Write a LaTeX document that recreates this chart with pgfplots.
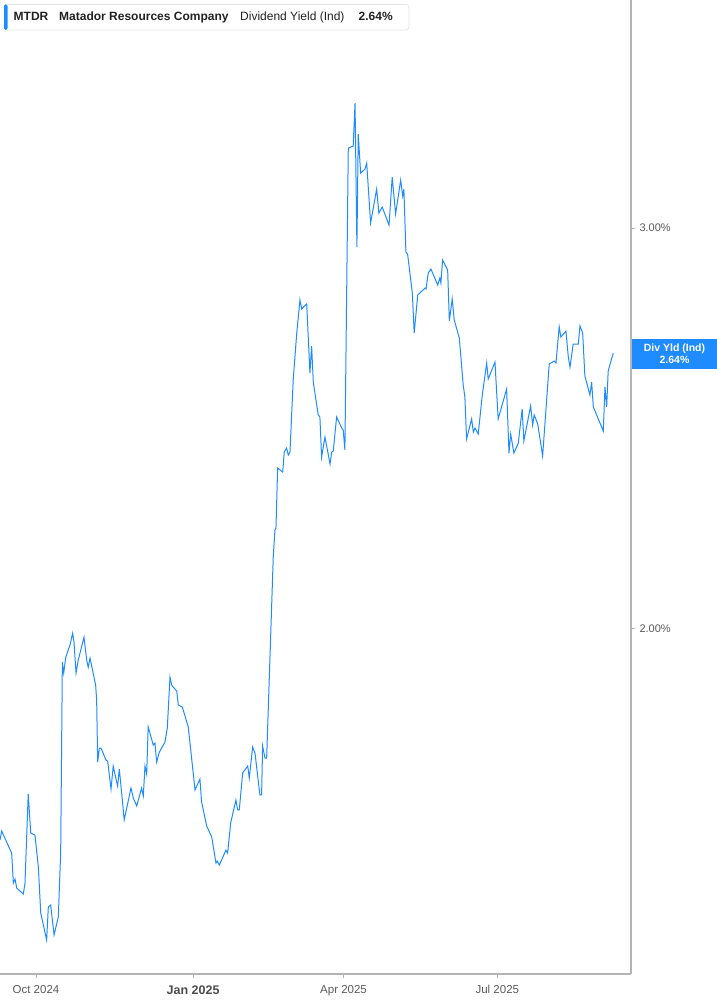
\documentclass[border=0pt]{standalone}
\usepackage{fontspec}
\setmainfont{Liberation Sans}
\usepackage{pgfplots}
\pgfplotsset{compat=1.18}
\definecolor{yldblue}{RGB}{30,140,255}
\definecolor{axisgray}{RGB}{180,180,180}
\definecolor{ticktext}{RGB}{90,90,90}
\definecolor{headtext}{RGB}{34,34,34}
\definecolor{boxline}{RGB}{228,228,228}

\begin{document}
\begin{tikzpicture}
\useasboundingbox (0pt,0pt) rectangle (717pt,1005pt);
\begin{axis}[
    at={(0pt,31pt)}, anchor=south west,
    width=631pt, height=974pt, scale only axis,
    ymode=log,
    xmin=-21.3, xmax=352.1,
    ymin=1.409, ymax=3.78,
    axis x line*=bottom, axis y line*=right,
    axis line style={draw=axisgray, line width=1.2pt},
    clip mode=individual,
    xtick={0,93,182,273},
    xticklabels={Oct 2024,{\raisebox{-3pt}{\fontsize{12.5}{14}\selectfont\bfseries\color{ticktext!85!black}Jan 2025}},Apr 2025,Jul 2025},
    ytick={2,3},
    yticklabels={2.00\%,3.00\%},
    minor tick num=0,
    tick align=outside,
    major tick length=4pt,
    tick style={draw=axisgray, line width=0.8pt},
    xticklabel style={font=\fontsize{11.5}{13}\selectfont, text=ticktext, anchor=north, yshift=-4pt},
    yticklabel style={font=\fontsize{11}{13}\selectfont, text=ticktext, anchor=west, xshift=1pt},
    /pgf/number format/assume math mode=true,
]
\addplot[color=yldblue, line width=1pt, mark=none] coordinates {
(-21.3,1.6138) (-20.3,1.6286) (-14.4,1.5926) (-13.4,1.5450) (-12.4,1.5513)
(-11.4,1.5371) (-7.5,1.5279) (-6.5,1.5450) (-4.6,1.6909) (-3.1,1.6253)
(-0.6,1.6220) (1.4,1.5702) (2.8,1.4989) (6.3,1.4583) (7.3,1.5080)
(8.7,1.5110) (10.7,1.4657) (13.2,1.4928) (14.6,1.5926) (15.6,1.9327)
(16.4,1.9113) (17.6,1.9425) (20.1,1.9663) (21.7,1.9903) (22.5,1.9722)
(23.7,1.9113) (25.0,1.9366) (28.4,1.9822) (30.0,1.9366) (30.9,1.9229)
(32.0,1.9405) (35.3,1.8882) (35.9,1.8598) (36.5,1.7465) (37.5,1.7714)
(38.5,1.7714) (41.4,1.7501) (42.4,1.7483) (44.4,1.6994) (45.7,1.7394)
(48.3,1.7046) (49.3,1.7342) (50.7,1.6926) (52.2,1.6471) (56.2,1.7011)
(57.6,1.6839) (59.6,1.6705) (62.5,1.7011) (63.5,1.6874) (64.5,1.7394)
(65.5,1.7254) (66.4,1.8098) (69.4,1.7768) (70.4,1.7804) (71.4,1.7465)
(73.0,1.7643) (76.3,1.7822) (77.7,1.8077) (79.3,1.9035) (80.3,1.8882)
(83.3,1.8768) (84.2,1.8504) (86.6,1.8467) (90.1,1.8098) (94.1,1.6977)
(97.0,1.7167) (98.0,1.6772) (101.0,1.6371) (104.0,1.6187) (106.5,1.5766)
(107.3,1.5798) (108.5,1.5734) (112.4,1.5975) (113.4,1.5926) (115.2,1.6421)
(118.3,1.6806) (119.3,1.6638) (120.3,1.6638) (122.3,1.7272) (125.3,1.7394)
(126.2,1.7184) (128.2,1.7732) (129.6,1.7625) (132.5,1.6892) (133.5,1.6892)
(134.1,1.7750) (135.5,1.7536) (136.5,1.7536) (140.4,2.1496) (141.4,2.2092)
(142.0,2.2137) (143.0,2.3524) (146.0,2.3429) (146.9,2.3909) (148.3,2.4006)
(149.3,2.3836) (150.3,2.3909) (152.2,2.5718) (154.3,2.6972) (156.2,2.7891)
(157.2,2.7639) (160.2,2.7779) (162.1,2.5901) (163.1,2.6619) (164.1,2.5667)
(167.0,2.4825) (168.0,2.4775) (169.0,2.3788) (171.0,2.4275) (174.0,2.3620)
(175.0,2.3909) (175.9,2.3933) (177.9,2.4775) (180.9,2.4497) (181.8,2.4448)
(182.8,2.3957) (184.8,3.2533) (187.7,3.2599) (188.8,3.4051) (189.9,2.9428)
(190.7,3.2998) (192.1,3.1719) (194.7,3.1848) (195.7,3.2042) (198.0,3.0152)
(201.6,3.1209) (202.9,3.0460) (204.9,3.0645) (208.9,3.0091) (210.8,3.1591)
(212.8,3.0428) (215.8,3.1495) (217.0,3.0989) (217.7,3.1209) (218.9,2.9279)
(219.9,2.9220) (222.7,2.8089) (223.8,2.6972) (225.9,2.8033) (230.2,2.8230)
(230.8,2.8203) (232.1,2.8664) (233.7,2.8780) (237.7,2.8318) (239.0,2.8518)
(239.6,2.8375) (240.6,2.9043) (243.6,2.8751) (244.6,2.7306) (246.3,2.7920)
(247.5,2.7334) (250.5,2.6836) (252.8,2.5589) (253.8,2.5280) (254.8,2.4225)
(257.8,2.4725) (258.8,2.4398) (259.8,2.4497) (261.7,2.4349) (264.1,2.5331)
(266.7,2.6165) (267.6,2.5744) (271.6,2.6191) (273.5,2.4725) (278.5,2.5485)
(279.9,2.3884) (280.9,2.4349) (282.8,2.3884) (285.4,2.4128) (287.7,2.4976)
(288.7,2.4177) (292.7,2.5051) (293.9,2.4576) (294.8,2.4825) (296.9,2.4600)
(299.8,2.3812) (303.7,2.6138) (306.7,2.6218) (307.7,2.6165) (309.6,2.7142)
(310.6,2.6863) (313.6,2.7027) (315.0,2.6324) (316.0,2.6059) (317.9,2.6673)
(320.9,2.6673) (321.9,2.7169) (323.5,2.6972) (324.8,2.5823) (327.8,2.5331)
(328.8,2.5667) (329.8,2.5026) (335.7,2.4423) (336.7,2.5537) (337.7,2.5026)
(338.6,2.5954) (341.6,2.6431)
};
\end{axis}

% header box
\draw[boxline, fill=white, rounded corners=3pt, line width=0.8pt] (4pt,975pt) rectangle (409pt,1000.5pt);
\fill[yldblue, rounded corners=1.5pt] (4pt,975pt) rectangle (7.5pt,1000.5pt);
\begin{scope}[every node/.style={inner sep=0pt, anchor=base west, text=headtext, font=\fontsize{12}{14}\selectfont}]
\node at (13.5pt,984pt) {\bfseries MTDR};
\node at (59pt,984pt) {\bfseries Matador Resources Company};
\node at (240pt,984pt) {Dividend Yield (Ind)};
\node at (358.5pt,984pt) {\bfseries 2.64\%};
\end{scope}

% last value label
\fill[yldblue] (631.5pt,636pt) rectangle (717pt,666pt);
\node[text=white, font=\fontsize{10.5}{12}\selectfont\bfseries, align=center, inner sep=0pt] at (674.5pt,651pt) {Div Yld (Ind)\\2.64\%};
\end{tikzpicture}
\end{document}
